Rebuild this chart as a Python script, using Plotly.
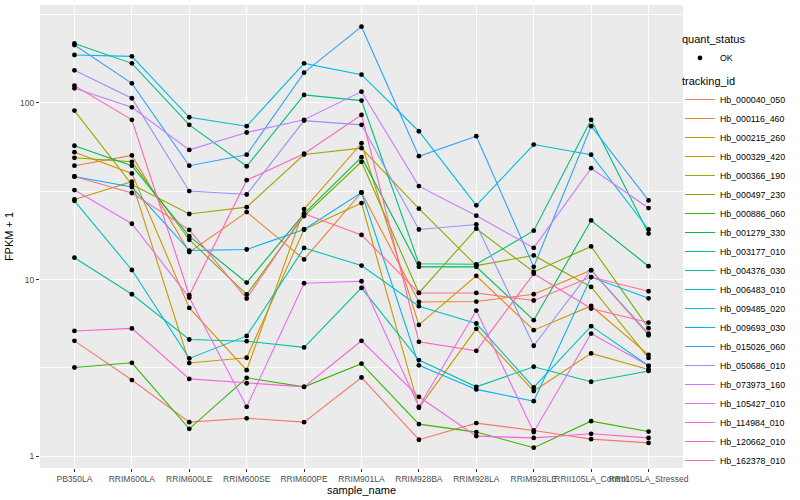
import plotly.graph_objects as go

# ---------------- data (values are FPKM + 1) ----------------
samples = ["PB350LA", "RRIM600LA", "RRIM600LE", "RRIM600SE", "RRIM600PE",
           "RRIM901LA", "RRIM928BA", "RRIM928LA", "RRIM928LE",
           "RRII105LA_Control", "RRII105LA_Stressed"]

tracking_ids = ["Hb_000040_050", "Hb_000116_460", "Hb_000215_260", "Hb_000329_420",
                "Hb_000366_190", "Hb_000497_230", "Hb_000886_060", "Hb_001279_330",
                "Hb_003177_010", "Hb_004376_030", "Hb_006483_010", "Hb_009485_020",
                "Hb_009693_030", "Hb_015026_060", "Hb_050686_010", "Hb_073973_160",
                "Hb_105427_010", "Hb_114984_010", "Hb_120662_010", "Hb_162378_010"]

hb_000040_050 = [4.50, 2.70, 1.56, 1.64, 1.56, 2.79, 1.24, 1.54, 1.40, 1.25, 1.19]
hb_000116_460 = [44.1, 50.4, 14.3, 24.1, 13.0, 31.1, 7.47, 7.51, 8.26, 11.3, 4.84]
hb_000215_260 = [52.6, 39.9, 6.91, 3.07, 25.05, 59.1, 5.54, 10.5, 5.17, 7.09, 3.75]
hb_000329_420 = [28.4, 35.8, 3.37, 3.61, 19.2, 27.1, 1.88, 5.26, 2.34, 3.82, 3.10]
hb_000366_190 = [90.5, 34.5, 23.5, 25.7, 51.0, 55.4, 25.2, 12.0, 13.7, 9.08, 3.60]
hb_000497_230 = [48.9, 46.4, 16.8, 8.23, 22.9, 46.4, 8.4, 19.4, 11.04, 15.4, 5.31]
hb_000886_060 = [3.18, 3.38, 1.43, 2.78, 2.47, 3.34, 1.52, 1.37, 1.118, 1.58, 1.38]
hb_001279_330 = [57.2, 44.1, 17.6, 9.61, 23.6, 49.3, 11.8, 11.8, 5.89, 21.6, 11.9]
hb_003177_010 = [217.0, 167.4, 75.1, 43.8, 111.0, 103.0, 12.3, 12.2, 18.9, 80.2, 18.2]
hb_004376_030 = [13.3, 8.26, 4.58, 4.48, 4.13, 8.97, 3.50, 2.47, 3.21, 2.64, 3.04]
hb_006483_010 = [27.9, 11.33, 3.58, 4.80, 15.1, 12.0, 7.07, 5.64, 2.45, 5.45, 3.25]
hb_009485_020 = [186.7, 183.4, 82.9, 73.8, 167.4, 144.5, 69.1, 26.3, 58.1, 50.9, 19.2]
hb_009693_030 = [38.3, 33.4, 14.6, 14.8, 19.2, 31.1, 3.27, 2.39, 2.05, 10.33, 7.83]
hb_015026_060 = [212.6, 129.0, 44.1, 50.9, 148.3, 270.0, 49.9, 64.8, 11.8, 73.8, 28.05]
hb_050686_010 = [152.8, 106.2, 31.7, 30.3, 79.4, 75.1, 19.2, 20.5, 4.22, 11.3, 4.95]
hb_073973_160 = [120.9, 94.4, 54.2, 68.0, 80.2, 115.8, 33.8, 23.0, 15.1, 42.7, 25.4]
hb_105427_010 = [32.1, 20.7, 7.91, 1.905, 9.53, 9.78, 1.905, 6.68, 1.37, 4.95, 3.25]
hb_114984_010 = [5.12, 5.29, 2.74, 2.59, 2.47, 4.50, 2.17, 1.30, 1.27, 1.34, 1.27]
hb_120662_010 = [125.2, 80.2, 8.15, 36.5, 51.6, 85.5, 4.44, 3.95, 10.8, 6.86, 5.71]
hb_162378_010 = [38.3, 30.9, 19.1, 7.81, 23.6, 17.9, 8.4, 8.4, 7.61, 10.33, 8.59]

series_values = [hb_000040_050, hb_000116_460, hb_000215_260, hb_000329_420,
                 hb_000366_190, hb_000497_230, hb_000886_060, hb_001279_330,
                 hb_003177_010, hb_004376_030, hb_006483_010, hb_009485_020,
                 hb_009693_030, hb_015026_060, hb_050686_010, hb_073973_160,
                 hb_105427_010, hb_114984_010, hb_120662_010, hb_162378_010]

quant_status = "OK"
y_ticks = [1, 10, 100]
y_minor = [0.316, 3.162, 31.62, 316.2]

# ggplot2 default hue palette for 20 levels
colors = ["#F8766D", "#EA8331", "#D89000", "#C09B00", "#A3A500", "#7CAE00",
          "#39B600", "#00BB4E", "#00BF7D", "#00C1A3", "#00BFC4", "#00BAE0",
          "#00B0F6", "#35A2FF", "#9590FF", "#C77CFF", "#E76BF3", "#FA62DB",
          "#FF62BC", "#FF6C91"]

FONT = "Liberation Sans, Arial, sans-serif"

fig = go.Figure()

for tid, vals, col in zip(tracking_ids, series_values, colors):
    fig.add_trace(go.Scatter(
        x=samples, y=vals, mode="lines", name=tid,
        line=dict(color=col, width=1.1),
        legend="legend",
    ))

# all points, black, on top of lines
all_x = [s for vals in series_values for s in samples]
all_y = [v for vals in series_values for v in vals]
fig.add_trace(go.Scatter(
    x=all_x, y=all_y, mode="markers", name=quant_status,
    marker=dict(color="black", size=4.8, symbol="circle"),
    legend="legend2",
))

fig.update_layout(
    width=800, height=500,
    margin=dict(l=40, r=117, t=5, b=32, autoexpand=False),
    paper_bgcolor="white",
    plot_bgcolor="#EBEBEB",
    font=dict(family=FONT, size=9, color="black"),
    xaxis=dict(
        type="category", range=[-0.6, 10.6], automargin=False,
        showgrid=True, gridcolor="white", gridwidth=1.1,
        ticks="outside", ticklen=3, tickcolor="#333333", tickwidth=1,
        tickangle=0,
        tickfont=dict(size=8.5, color="#4D4D4D", family=FONT),
        title=dict(text="sample_name", font=dict(size=11, color="black"), standoff=2),
        zeroline=False, showline=False,
    ),
    yaxis=dict(
        type="log", range=[-0.0665, 2.554], automargin=False,
        tickmode="array", tickvals=y_ticks, ticktext=[str(t) for t in y_ticks],
        showgrid=True, gridcolor="white", gridwidth=1.1,
        minor=dict(tickmode="array", tickvals=y_minor, showgrid=True,
                   gridcolor="white", gridwidth=0.55, ticks=""),
        ticks="outside", ticklen=3, tickcolor="#333333", tickwidth=1,
        tickfont=dict(size=8.5, color="#4D4D4D", family=FONT),
        title=dict(text="FPKM + 1", font=dict(size=11, color="black"), standoff=4),
        zeroline=False, showline=False,
    ),
    legend2=dict(
        x=0.9953, xanchor="left", y=0.948, yanchor="top",
        title=dict(text="quant_status", font=dict(size=11)),
        font=dict(size=8.8), bgcolor="rgba(0,0,0,0)", itemwidth=30,
    ),
    legend=dict(
        x=0.9953, xanchor="left", y=0.858, yanchor="top",
        title=dict(text="tracking_id", font=dict(size=11)),
        font=dict(size=8.8), bgcolor="rgba(0,0,0,0)", itemwidth=30,
        tracegroupgap=0,
    ),
)

fig.write_html(
    "out.html",
    config={"displayModeBar": False},
    post_script="document.body.style.margin='0px';document.body.style.padding='0px';",
)
